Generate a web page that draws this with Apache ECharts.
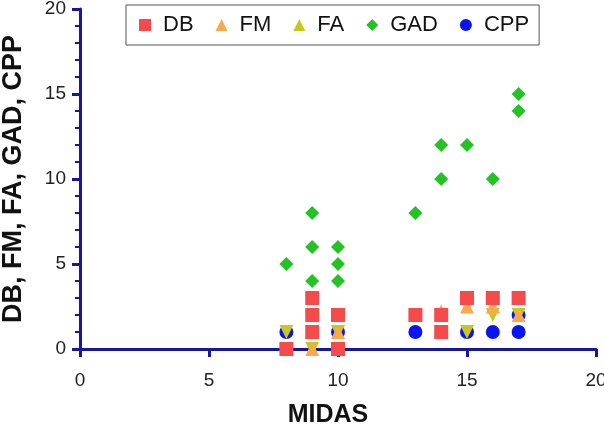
<!DOCTYPE html>
<html>
<head>
<meta charset="utf-8">
<script src="https://cdn.jsdelivr.net/npm/echarts@6/dist/echarts.min.js"></script>
<style>
html, body { margin: 0; padding: 0; background: #fff; }
#chart { width: 604px; height: 428px; }
</style>
</head>
<body>
<div id="chart"></div>
<script>
// points as [MIDAS, score]
var dbPoints = [[8, 0], [9, 1], [9, 2], [9, 3], [10, 0], [10, 2], [13, 2], [14, 1], [14, 2], [15, 3], [16, 3], [17, 3]];
var fmPoints = [[9, 0], [10, 1], [14, 2.2], [15, 2.5], [16, 2.5], [17, 2]];
var faPoints = [[8, 1], [9, 0], [10, 1], [15, 1], [16, 2], [17, 2]];
var gadPoints = [[8, 5], [9, 4], [9, 6], [9, 8], [10, 4], [10, 5], [10, 6], [13, 8], [14, 10], [14, 12], [15, 12], [16, 10], [17, 14], [17, 15]];
var cppPoints = [[8, 1], [10, 0], [10, 1], [13, 1], [15, 1], [16, 1], [17, 1], [17, 2]];

var legendNames = ['DB', 'FM', 'FA', 'GAD', 'CPP'];
var axisColor = '#1616a0';
var font = 'Liberation Sans, Arial, sans-serif';

var myChart = echarts.init(document.getElementById('chart'));

var option = {
    backgroundColor: '#fff',
    animation: false,
    legend: {
        data: legendNames,
        left: 126,
        top: 5,
        padding: [9, 10, 9, 13],
        itemWidth: 12,
        itemHeight: 12,
        itemGap: 22,
        borderColor: '#555',
        borderWidth: 1,
        textStyle: {fontSize: 22, color: '#111', fontFamily: font, padding: [0, 0, 0, 7]}
    },
    grid: {left: 80, right: 8, top: 9, bottom: 79, containLabel: false, outerBoundsMode: 'none'},
    xAxis: {
        type: 'value',
        min: 0,
        max: 20,
        interval: 5,
        name: 'MIDAS',
        nameLocation: 'middle',
        nameGap: 54,
        nameTextStyle: {fontSize: 25, fontWeight: 'bold', color: '#111', fontFamily: font, padding: [0, 20, 0, 0]},
        axisLine: {onZero: false, lineStyle: {color: axisColor, width: 3}},
        axisTick: {length: 8, lineStyle: {color: axisColor, width: 3}},
        axisLabel: {fontSize: 19, color: '#222', margin: 22, fontFamily: font},
        splitLine: {show: false}
    },
    yAxis: {
        type: 'value',
        min: 0,
        max: 20,
        interval: 5,
        name: 'DB, FM, FA, GAD, CPP',
        nameLocation: 'middle',
        nameGap: 53,
        nameTextStyle: {fontSize: 27, fontWeight: 'bold', color: '#111', fontFamily: font},
        axisLine: {onZero: false, lineStyle: {color: axisColor, width: 3}},
        axisTick: {length: 8, lineStyle: {color: axisColor, width: 3}},
        minorTick: {show: true, splitNumber: 5, length: 5, lineStyle: {color: axisColor, width: 2}},
        axisLabel: {fontSize: 19, color: '#222', margin: 14, fontFamily: font},
        splitLine: {show: false}
    },
    series: [
        {name: 'CPP', type: 'scatter', symbol: 'circle', symbolSize: 14, itemStyle: {color: '#0a14ee', opacity: 1}, data: cppPoints},
        {name: 'GAD', type: 'scatter', symbol: 'diamond', symbolSize: 14, itemStyle: {color: '#22c322', opacity: 1}, data: gadPoints},
        {name: 'FA', type: 'scatter', symbol: 'triangle', symbolRotate: 180, symbolSize: 14, itemStyle: {color: '#c8c81c', opacity: 1}, data: faPoints},
        {name: 'FM', type: 'scatter', symbol: 'triangle', symbolSize: 14, itemStyle: {color: '#f9a94c', opacity: 1}, data: fmPoints},
        {name: 'DB', type: 'scatter', symbol: 'rect', symbolSize: 14, itemStyle: {color: '#f54b4b', opacity: 1}, data: dbPoints}
    ]
};
myChart.setOption(option);
</script>
</body>
</html>
